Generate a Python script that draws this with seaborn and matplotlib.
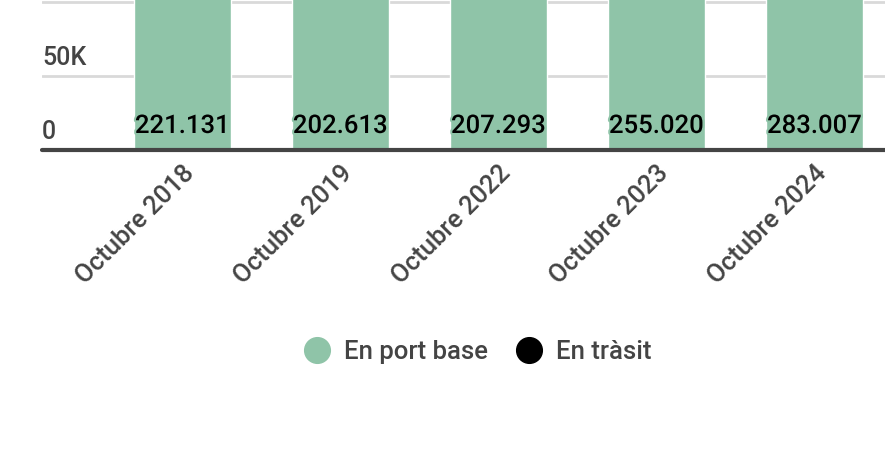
import pandas as pd
import matplotlib.pyplot as plt
import seaborn as sns
import matplotlib.patheffects as pe
from matplotlib.lines import Line2D
from matplotlib import transforms

# --- data ---
mesos = ["Octubre 2018", "Octubre 2019", "Octubre 2022", "Octubre 2023", "Octubre 2024"]
en_port_base = [221131, 202613, 207293, 255020, 283007]
series = ["En port base", "En tràsit"]
y_ticks = [0, 50000, 100000]
y_tick_labels = ["0", "50K"]   # the 100K label is cropped off in the original

green = '#8fc4a8'
black = '#000000'
grey_text = '#444444'

sns.set_theme(style='white')
plt.rcParams['font.family'] = ['Roboto', 'DejaVu Sans']

df = pd.DataFrame({'mes': mesos, 'valor': en_port_base})

fig = plt.figure(figsize=(8.85, 4.63), dpi=100)
# chart is cropped at the top: the axes run to the top edge of the figure
ax = fig.add_axes([42 / 885, (463 - 150) / 463, 843 / 885, 150 / 463])

sns.barplot(data=df, x='mes', y='valor', color=green, saturation=1,
            width=0.614, ax=ax, zorder=2)

ax.set_xlim(-0.889, 4.446)
ax.set_ylim(0, 101333)

# gridlines
for t in y_ticks[1:]:
    ax.axhline(t, color='#d9d9d9', lw=2, zorder=1)
ax.axhline(0, color='#444444', lw=3, zorder=3, clip_on=False)

for s in ax.spines.values():
    s.set_visible(False)
ax.set_yticks([])
ax.set_xlabel('')
ax.set_ylabel('')

# y labels sit left-aligned above their gridline
blend = transforms.blended_transform_factory(ax.transAxes, ax.transData)
for t, lab in zip(y_ticks, y_tick_labels):
    ax.annotate(lab, xy=(0, t), xycoords=blend, xytext=(0, 6),
                textcoords='offset pixels', ha='left', va='bottom',
                fontsize=18, fontweight='medium', color=grey_text,
                annotation_clip=False)

# x tick labels, rotated
ax.tick_params(axis='x', length=0, pad=8)
ax.set_xticks(range(len(mesos)))
ax.set_xticklabels(mesos, rotation=45, ha='right', rotation_mode='anchor',
                   fontsize=18.5, fontweight='medium', color=grey_text)

# value labels at the base of each bar
for i, v in enumerate(en_port_base):
    lab = f"{v:,}".replace(',', '.')
    ax.annotate(lab, xy=(i, 0), xytext=(0, 17), textcoords='offset pixels',
                ha='center', va='baseline', fontsize=18.5, color='black',
                fontweight='medium', zorder=4,
                path_effects=[pe.withStroke(linewidth=3, foreground=green)])

handles = [Line2D([], [], marker='o', ls='', markersize=18.5,
                  markerfacecolor=c, markeredgecolor=c)
           for c in (green, black)]
fig.legend(handles, series, loc='center', bbox_to_anchor=(478 / 885, 1 - 352 / 463),
           ncol=2, frameon=False, labelcolor=grey_text,
           prop={'weight': 'medium', 'size': 18.5},
           handletextpad=0.55, columnspacing=1.1, handlelength=1.0)

fig.savefig('out.png', dpi=100)
